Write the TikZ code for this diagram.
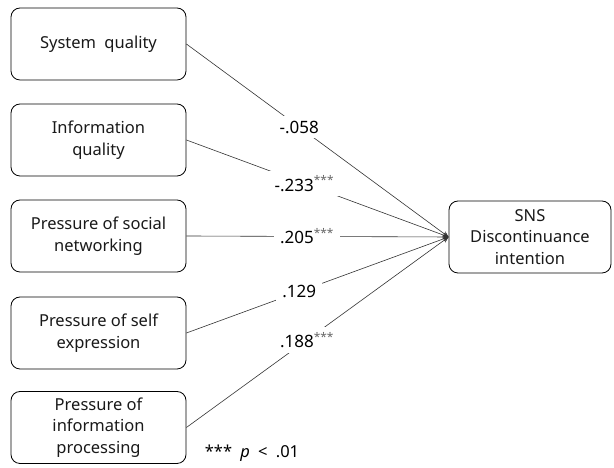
\documentclass[tikz,border=0pt]{standalone}
\usepackage{fontspec}
\setmainfont{Noto Sans}
\usepackage{tikz}
\usetikzlibrary{arrows.meta}

\begin{document}
\begin{tikzpicture}[x=1pt, y=1pt,
  every node/.style={font=\fontsize{16.5}{21.5}\selectfont},
  factor/.style={draw, thick, rounded corners=9pt, minimum width=175pt, minimum height=72pt, align=center, text=black!90},
  outcome/.style={draw, thick, rounded corners=9pt, minimum width=162pt, minimum height=72pt, align=center, text=black!90},
  coef/.style={fill=white, inner xsep=6pt, inner ysep=5pt, font=\fontsize{17}{20}\selectfont},
  path/.style={draw=black!80, line width=0.6pt, -{Stealth[length=6pt, width=5pt]}}]

\useasboundingbox (0,0) rectangle (614,468);

% Predictors
\node[factor] (sq) at (98.5,424) {System\enspace quality};
\node[factor] (iq) at (98.5,328) {Information\\quality};
\node[factor] (psn) at (98.5,232) {Pressure of social\\networking};
\node[factor] (pse) at (98.5,135) {Pressure of self\\expression};
\node[factor] (pip) at (98.5,40.5) {Pressure of\\information\\processing};

% Outcome
\node[outcome] (sdi) at (530,231) {SNS\\Discontinuance\\intention};

% Paths with coefficients
\draw[path] (sq.east) -- node[coef, pos=0.43] {-.058} (sdi.west);
\draw[path] (iq.east) -- node[coef, pos=0.45] {-.233\textsuperscript{\textcolor{black!60}{***}}} (sdi.west);
\draw[path] (psn.east) -- node[coef, pos=0.46] {.205\textsuperscript{\textcolor{black!60}{***}}} (sdi.west);
\draw[path] (pse.east) -- node[coef, pos=0.43] {.129} (sdi.west);
\draw[path] (pip.east) -- node[coef, pos=0.46] {.188\textsuperscript{\textcolor{black!60}{***}}} (sdi.west);

% Note
\node (note) at (252,15) {***\enspace\textit{p}\enspace<\enspace.01};
\end{tikzpicture}
\end{document}
